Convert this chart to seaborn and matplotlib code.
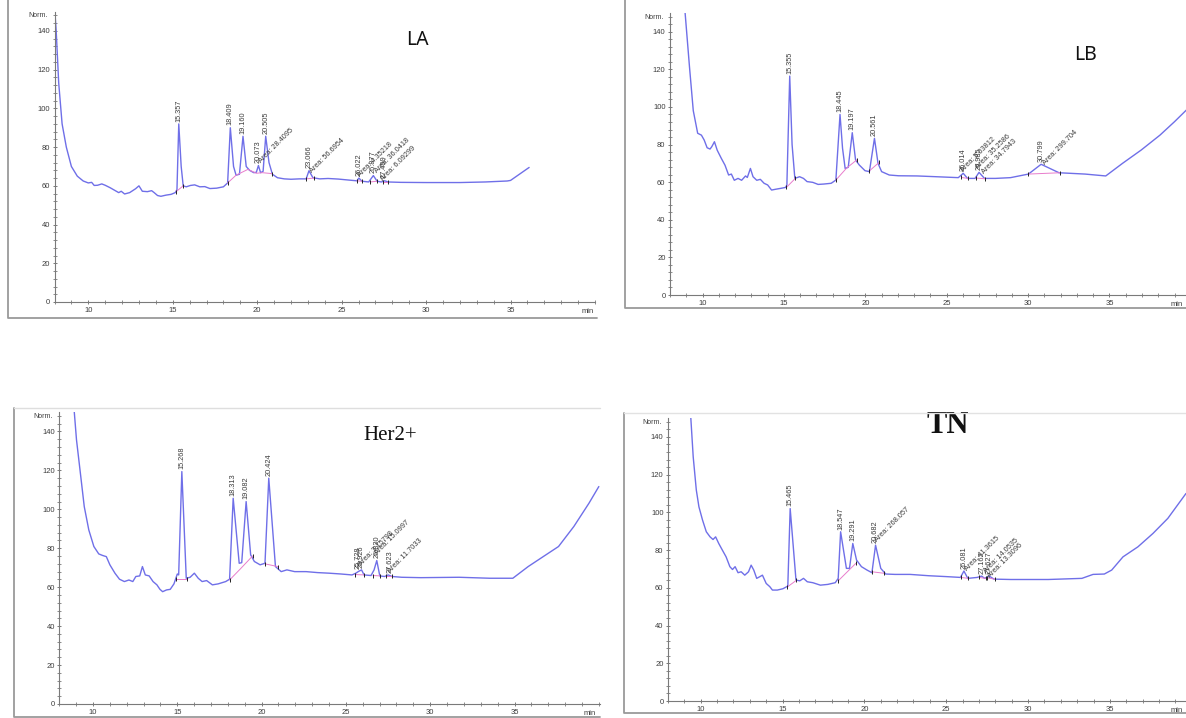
import matplotlib
matplotlib.use("Agg")
import matplotlib.pyplot as plt
from matplotlib.lines import Line2D
import matplotlib.ticker as mticker
import seaborn as sns
import pandas as pd

# ---------------- data ----------------
la_time = [8.0, 8.1, 8.25, 8.45, 8.7, 9.0, 9.35, 9.7, 10.0, 10.2, 10.35, 10.55, 10.8, 11.0, 11.3, 11.6,
           11.8, 11.95, 12.15, 12.45, 12.8, 13.0, 13.2, 13.5, 13.75, 13.9, 14.1, 14.3, 14.6, 14.9, 15.15,
           15.25, 15.357, 15.5, 15.62, 15.8, 16.05, 16.3, 16.6, 16.9, 17.2, 17.6, 18.0, 18.25, 18.409,
           18.6, 18.75, 18.95, 19.16, 19.35, 19.55, 19.8, 19.95, 20.073, 20.2, 20.35, 20.505, 20.7, 20.9,
           21.2, 21.6, 22.0, 22.5, 22.9, 23.066, 23.3, 23.7, 24.2, 24.8, 25.4, 25.9, 26.022, 26.2, 26.6,
           26.877, 27.1, 27.35, 27.55, 27.75, 28.5, 30.0, 32.0, 33.5, 34.8, 35.0, 36.1]
la_signal = [153, 140, 113, 92, 80, 70, 65, 62.5, 61.5, 61.8, 60.2, 60.3, 61, 60.3, 59, 57.5,
             56.5, 57.2, 55.8, 56.5, 58.5, 60, 57.2, 57, 57.5, 56.5, 55, 54.6, 55.2, 55.6, 56.5,
             58, 92, 70, 60, 59.5, 60.2, 60.5, 59.5, 59.6, 58.6, 58.8, 59.5, 61.5, 90,
             70, 65.5, 66, 85.6, 70, 68, 66.8, 67, 70.5, 66.8, 67.5, 85.6, 72, 66,
             64.2, 63.6, 63.4, 63.6, 63.6, 67.8, 64.2, 63.6, 63.8, 63.5, 63, 62.6, 64, 62.4, 62,
             65.3, 62.4, 62, 62.6, 62, 61.8, 61.7, 61.7, 62, 62.5, 62.8, 69.5]
la_baselines = [[(15.2, 57), (15.62, 60)],
                [(18.25, 61.5), (18.75, 65.5), (19.45, 68.5), (19.95, 66.5), (20.3, 66.8), (20.9, 66.3)],
                [(22.9, 63.6), (23.35, 64)],
                [(25.9, 62.6), (26.2, 62.4)],
                [(26.7, 62), (27.1, 62.4)],
                [(27.45, 62), (27.75, 62)]]
la_rt = [15.357, 18.409, 19.160, 20.073, 20.505, 23.066, 26.022, 26.877, 27.499]
la_rt_h = [92, 90, 85.6, 70.5, 85.6, 67.8, 64, 65.3, 62.6]
la_area_text = ["Area: 28.4095", "Area: 56.6954", "Area: 4.35218", "Area: 36.0418", "Area: 6.09299"]
la_area_t = [20.3, 23.3, 26.15, 27.15, 27.55]
la_area_v = [71, 66, 64, 66, 62]

lb_time = [8.9, 9.2, 9.43, 9.7, 9.93, 10.1, 10.28, 10.46, 10.57, 10.73, 10.9, 11.15, 11.38, 11.6, 11.77,
           11.95, 12.18, 12.4, 12.64, 12.75, 12.94, 13.1, 13.33, 13.55, 13.78, 14.0, 14.24, 14.47, 14.8,
           15.1, 15.18, 15.355, 15.5, 15.67, 15.96, 16.2, 16.42, 16.77, 17.1, 17.45, 17.9, 18.19, 18.445,
           18.6, 18.76, 18.95, 19.197, 19.4, 19.63, 19.98, 20.25, 20.561, 20.78, 21.0, 21.47, 22.04, 23.19,
           24.33, 25.71, 26.014, 26.28, 26.74, 26.985, 27.32, 28.0, 28.92, 30.02, 30.799, 31.9, 32.6, 33.5,
           34.77, 35.8, 36.95, 38.1, 39.0, 39.8]
lb_signal = [153, 121, 98, 86, 85, 82.4, 78.3, 77.6, 78.9, 81.5, 77, 72.7, 69, 63.8, 64.3,
             61, 62, 61, 63.3, 62.5, 67.3, 62.9, 61, 61.5, 59.4, 58.5, 55.8, 56.2, 56.7,
             57.2, 58.5, 116.4, 80, 62, 62.9, 62, 60.3, 59.9, 58.8, 59, 59.4, 61.1, 96,
             78, 67.3, 67.9, 86.3, 71.8, 69.1, 66.1, 65.6, 83.3, 70, 65.6, 63.8, 63.4, 63.3,
             62.9, 62.4, 64.7, 62, 62, 65.2, 62, 62, 62.4, 64.3, 69.5, 65, 64.7, 64.3,
             63.3, 70, 77.1, 85, 92.2, 99]
lb_baselines = [[(15.15, 57.2), (15.7, 62)],
                [(18.19, 61.1), (18.85, 67.5), (19.5, 72)],
                [(20.25, 66), (20.85, 70.5)],
                [(25.9, 62.5), (26.3, 62)],
                [(26.8, 62.2), (27.35, 61.8)],
                [(30.02, 64.3), (31.95, 65)]]
lb_rt = [15.355, 18.445, 19.197, 20.561, 26.014, 26.985, 30.799]
lb_rt_h = [116.4, 96, 86.3, 83.3, 64.7, 65.2, 69.5]
lb_area_text = ["Area: 5.03812", "Area: 35.2586", "Area: 34.7943", "Area: 299.704"]
lb_area_t = [26.1, 27.0, 27.4, 31.1]
lb_area_v = [64.5, 66.5, 63.5, 68.5]

her_time = [8.87, 9.02, 9.25, 9.48, 9.75, 10.05, 10.34, 10.57, 10.79, 11.0, 11.3, 11.57, 11.86, 12.13,
            12.36, 12.54, 12.77, 12.93, 13.1, 13.33, 13.56, 13.79, 13.97, 14.13, 14.36, 14.58, 14.8, 15.0,
            15.08, 15.268, 15.53, 15.76, 16.01, 16.24, 16.47, 16.74, 17.08, 17.42, 17.87, 18.1, 18.313,
            18.67, 18.82, 19.082, 19.35, 19.57, 19.91, 20.2, 20.424, 20.82, 21.16, 21.5, 21.96, 22.64,
            23.32, 24.0, 24.68, 25.36, 25.59, 25.728, 25.926, 26.08, 26.49, 26.67, 26.830, 27.01, 27.29,
            27.51, 27.74, 28.31, 29.44, 31.71, 33.53, 34.9, 35.81, 36.7, 37.61, 38.52, 39.42, 40.0]
her_signal = [152, 135.7, 118.6, 101.4, 89.4, 80.9, 77.1, 76.3, 75.7, 71.5, 67.2, 64.1, 62.9, 63.7,
              62.9, 65.5, 65.8, 70.6, 66.3, 65.8, 62.9, 61.2, 58.9, 57.7, 58.6, 58.9, 61.7, 66.8,
              66.3, 119.4, 64.6, 65.1, 67.2, 64.6, 62.9, 63.4, 61.2, 61.7, 62.9, 64.1, 105.7,
              72.3, 72.6, 104, 76.6, 73.2, 71.5, 72.3, 116, 70.6, 68, 68.9, 68, 68,
              67.5, 67.2, 66.8, 66.3, 67.2, 68, 68.9, 66.3, 66.0, 68.9, 73.7, 65.8, 65.5,
              66.3, 65.5, 65.1, 64.9, 65.1, 64.6, 64.6, 70.6, 75.7, 80.9, 91.2, 103.2, 111.7]
her_baselines = [[(14.95, 64.1), (15.6, 64.1)],
                 [(18.1, 63.7), (18.75, 69.5), (19.46, 76)],
                 [(20.2, 72), (20.95, 70.6)],
                 [(25.55, 66.5), (26.1, 66.3)],
                 [(26.6, 66), (27.05, 65.8)],
                 [(27.4, 65.5), (27.75, 65.5)]]
her_rt = [15.268, 18.313, 19.082, 20.424, 25.728, 25.926, 26.830, 27.623]
her_rt_h = [119.4, 105.7, 104, 116, 68, 68.9, 73.7, 66.3]
her_area_text = ["Area: 3.15798", "Area: 15.0997", "Area: 11.7033"]
her_area_t = [25.95, 26.95, 27.7]
her_area_v = [70, 76, 66.5]

tn_time = [9.38, 9.54, 9.73, 9.89, 10.11, 10.34, 10.57, 10.75, 10.91, 11.1, 11.32, 11.55, 11.78, 11.94,
           12.1, 12.28, 12.47, 12.69, 12.92, 13.08, 13.24, 13.42, 13.61, 13.77, 14.0, 14.22, 14.38, 14.68,
           15.02, 15.32, 15.465, 15.82, 16.05, 16.28, 16.51, 16.85, 17.31, 17.76, 18.22, 18.4, 18.547,
           18.9, 19.09, 19.291, 19.52, 19.82, 20.16, 20.46, 20.682, 21.0, 21.3, 21.87, 22.79, 23.93,
           25.07, 25.87, 26.081, 26.32, 26.89, 27.162, 27.35, 27.627, 27.92, 28.95, 31.23, 33.29, 33.97,
           34.66, 35.11, 35.8, 36.71, 37.63, 38.54, 39.65]
tn_signal = [152, 129.4, 111.8, 102.9, 95.9, 89.7, 87, 85.6, 87, 83.5, 80, 76.4, 71.2, 69.7,
             71.2, 68, 68.5, 66.7, 68.5, 72, 69.4, 65, 65.9, 66.7, 62.3, 60.6, 58.8, 58.8,
             59.5, 60.9, 102, 64.1, 63.7, 65, 63.2, 62.7, 61.4, 61.8, 62.7, 65, 89.7,
             70.3, 70.3, 83.5, 74.7, 71.2, 69.4, 68, 82.6, 70.3, 67.3, 67.1, 67.1, 66.4,
             65.9, 65.5, 68.9, 65, 65.5, 66.2, 65, 66.2, 64.6, 64.4, 64.4, 65, 67.1,
             67.3, 69.4, 76.4, 81.7, 88.8, 96.8, 110]
tn_baselines = [[(15.3, 60.5), (15.85, 64)],
                [(18.4, 63.7), (19.47, 72.9)],
                [(20.46, 68.5), (21.2, 67.7)],
                [(25.9, 65.5), (26.35, 65)],
                [(27.0, 65.5), (27.4, 65)],
                [(27.5, 65.3), (27.95, 64.6)]]
tn_rt = [15.465, 18.547, 19.291, 20.682, 26.081, 27.162, 27.627]
tn_rt_h = [102, 89.7, 83.5, 82.6, 68.9, 66.2, 66.2]
tn_area_text = ["Area: 268.057", "Area: 41.3615", "Area: 14.0535", "Area: 13.3096"]
tn_area_t = [20.85, 26.35, 27.5, 27.75]
tn_area_v = [83.5, 68, 67, 64.5]

panel_titles = ["LA", "LB", "Her2+", "TN"]
x_ticks = [10, 15, 20, 25, 30, 35]
y_ticks = [0, 20, 40, 60, 80, 100, 120, 140]

# ---------------- style ----------------
sns.set_theme(style="white")
plt.rcParams["font.family"] = ["Liberation Sans", "DejaVu Sans"]

W, H = 1186, 718
fig = plt.figure(figsize=(W / 100, H / 100), dpi=100)

TRACE = "#6f6fe8"
BASE = "#e87ccc"
TXT = "#3c3c3c"
AXC = "#7a7a7a"


def px_axes(left, right, top, bottom):
    return fig.add_axes([left / W, 1 - bottom / H, (right - left) / W, (bottom - top) / H])


def frame(pts, color="#9a9a9a", lw=1.3):
    xs = [p[0] / W for p in pts]
    ys = [1 - p[1] / H for p in pts]
    fig.add_artist(Line2D(xs, ys, color=color, lw=lw, transform=fig.transFigure))


def panel(rect, xmax, t, v, baselines, rt, rt_h, a_txt, a_t, a_v, title, title_xy, title_kw,
          min_x):
    ax = px_axes(*rect)
    sns.lineplot(x=t, y=v, ax=ax, sort=False, estimator=None, color=TRACE, lw=1.0)
    rows = []
    for i, seg in enumerate(baselines):
        for (bt, bv) in seg:
            rows.append({"seg": i, "t": bt, "v": bv})
    bdf = pd.DataFrame(rows)
    sns.lineplot(data=bdf, x="t", y="v", units="seg", estimator=None, sort=False,
                 color=BASE, lw=0.7, ax=ax)
    ends = pd.DataFrame([{"t": s[0][0], "v": s[0][1]} for s in baselines] +
                        [{"t": s[-1][0], "v": s[-1][1]} for s in baselines])
    sns.scatterplot(data=ends, x="t", y="v", marker="|", s=10, color="#222222",
                    linewidth=0.7, ax=ax, zorder=5)
    for r, h in zip(rt, rt_h):
        ax.text(r, h + 1.2, f"{r:.3f}", rotation=90, ha="center", va="bottom",
                fontsize=5.3, color=TXT)
    for s, at, av in zip(a_txt, a_t, a_v):
        ax.text(at, av, s, rotation=45, rotation_mode="anchor", ha="left", va="bottom",
                fontsize=5.3, color=TXT)
    ax.set_xlim(8, xmax)
    ax.set_ylim(0, 150)
    ax.set_xticks(x_ticks)
    ax.set_yticks(y_ticks)
    ax.xaxis.set_minor_locator(mticker.MultipleLocator(1))
    ax.yaxis.set_minor_locator(mticker.MultipleLocator(4))
    ax.tick_params(axis="both", which="major", labelsize=5.5, labelcolor=TXT, color=AXC,
                   length=3.5, width=0.7, direction="inout", pad=1.5, left=True, bottom=True)
    ax.tick_params(axis="both", which="minor", color=AXC, length=2.2, width=0.6,
                   direction="inout", left=True, bottom=True)
    for sp in ["top", "right"]:
        ax.spines[sp].set_visible(False)
    for sp in ["left", "bottom"]:
        ax.spines[sp].set_color(AXC)
        ax.spines[sp].set_linewidth(0.8)
    ax.set_xlabel("")
    ax.set_ylabel("")
    ax.text(-0.012, 0.985, "Norm.", transform=ax.transAxes, ha="right", va="center",
            fontsize=5, color=TXT)
    ax.text(min_x, -0.022, "min", transform=ax.transAxes, ha="right", va="top",
            fontsize=5.5, color=TXT, clip_on=False)
    ax.text(title_xy[0], title_xy[1], title, ha="center", va="center", color="#111111", **title_kw)
    ax.patch.set_alpha(0)
    return ax


# frames
frame([(8, 0), (8, 318), (597, 318)])
frame([(625, 0), (625, 308), (1186, 308)])
frame([(14, 408), (14, 717), (600, 717)])
frame([(14, 408), (600, 408)], color="#dedede", lw=1.0)
frame([(624, 413), (624, 713), (1186, 713)])
frame([(624, 413), (1186, 413)], color="#e2e2e2", lw=1.0)

panel((54.5, 595, 11.6, 302), 40.0, la_time, la_signal, la_baselines, la_rt, la_rt_h,
      la_area_text, la_area_t, la_area_v, panel_titles[0], (29.5, 135.5),
      dict(fontsize=14, family=["Noto Sans", "DejaVu Sans"]), 0.998)
panel((670, 1186, 12.9, 295), 39.7, lb_time, lb_signal, lb_baselines, lb_rt, lb_rt_h,
      lb_area_text, lb_area_t, lb_area_v, panel_titles[1], (33.5, 127.6),
      dict(fontsize=14, family=["Noto Sans", "DejaVu Sans"]), 0.994)
panel((59.3, 600, 412, 704), 40.07, her_time, her_signal, her_baselines, her_rt, her_rt_h,
      her_area_text, her_area_t, her_area_v, panel_titles[2], (27.6, 137.8),
      dict(fontsize=15, family=["Liberation Serif", "DejaVu Serif"]), 0.992)
panel((668, 1186, 418, 701), 39.65, tn_time, tn_signal, tn_baselines, tn_rt, tn_rt_h,
      tn_area_text, tn_area_t, tn_area_v, panel_titles[3], (25.1, 146),
      dict(fontsize=22, family=["Liberation Serif", "DejaVu Serif"], weight="bold"), 0.994)

fig.savefig("out.png", dpi=100, facecolor="white")
